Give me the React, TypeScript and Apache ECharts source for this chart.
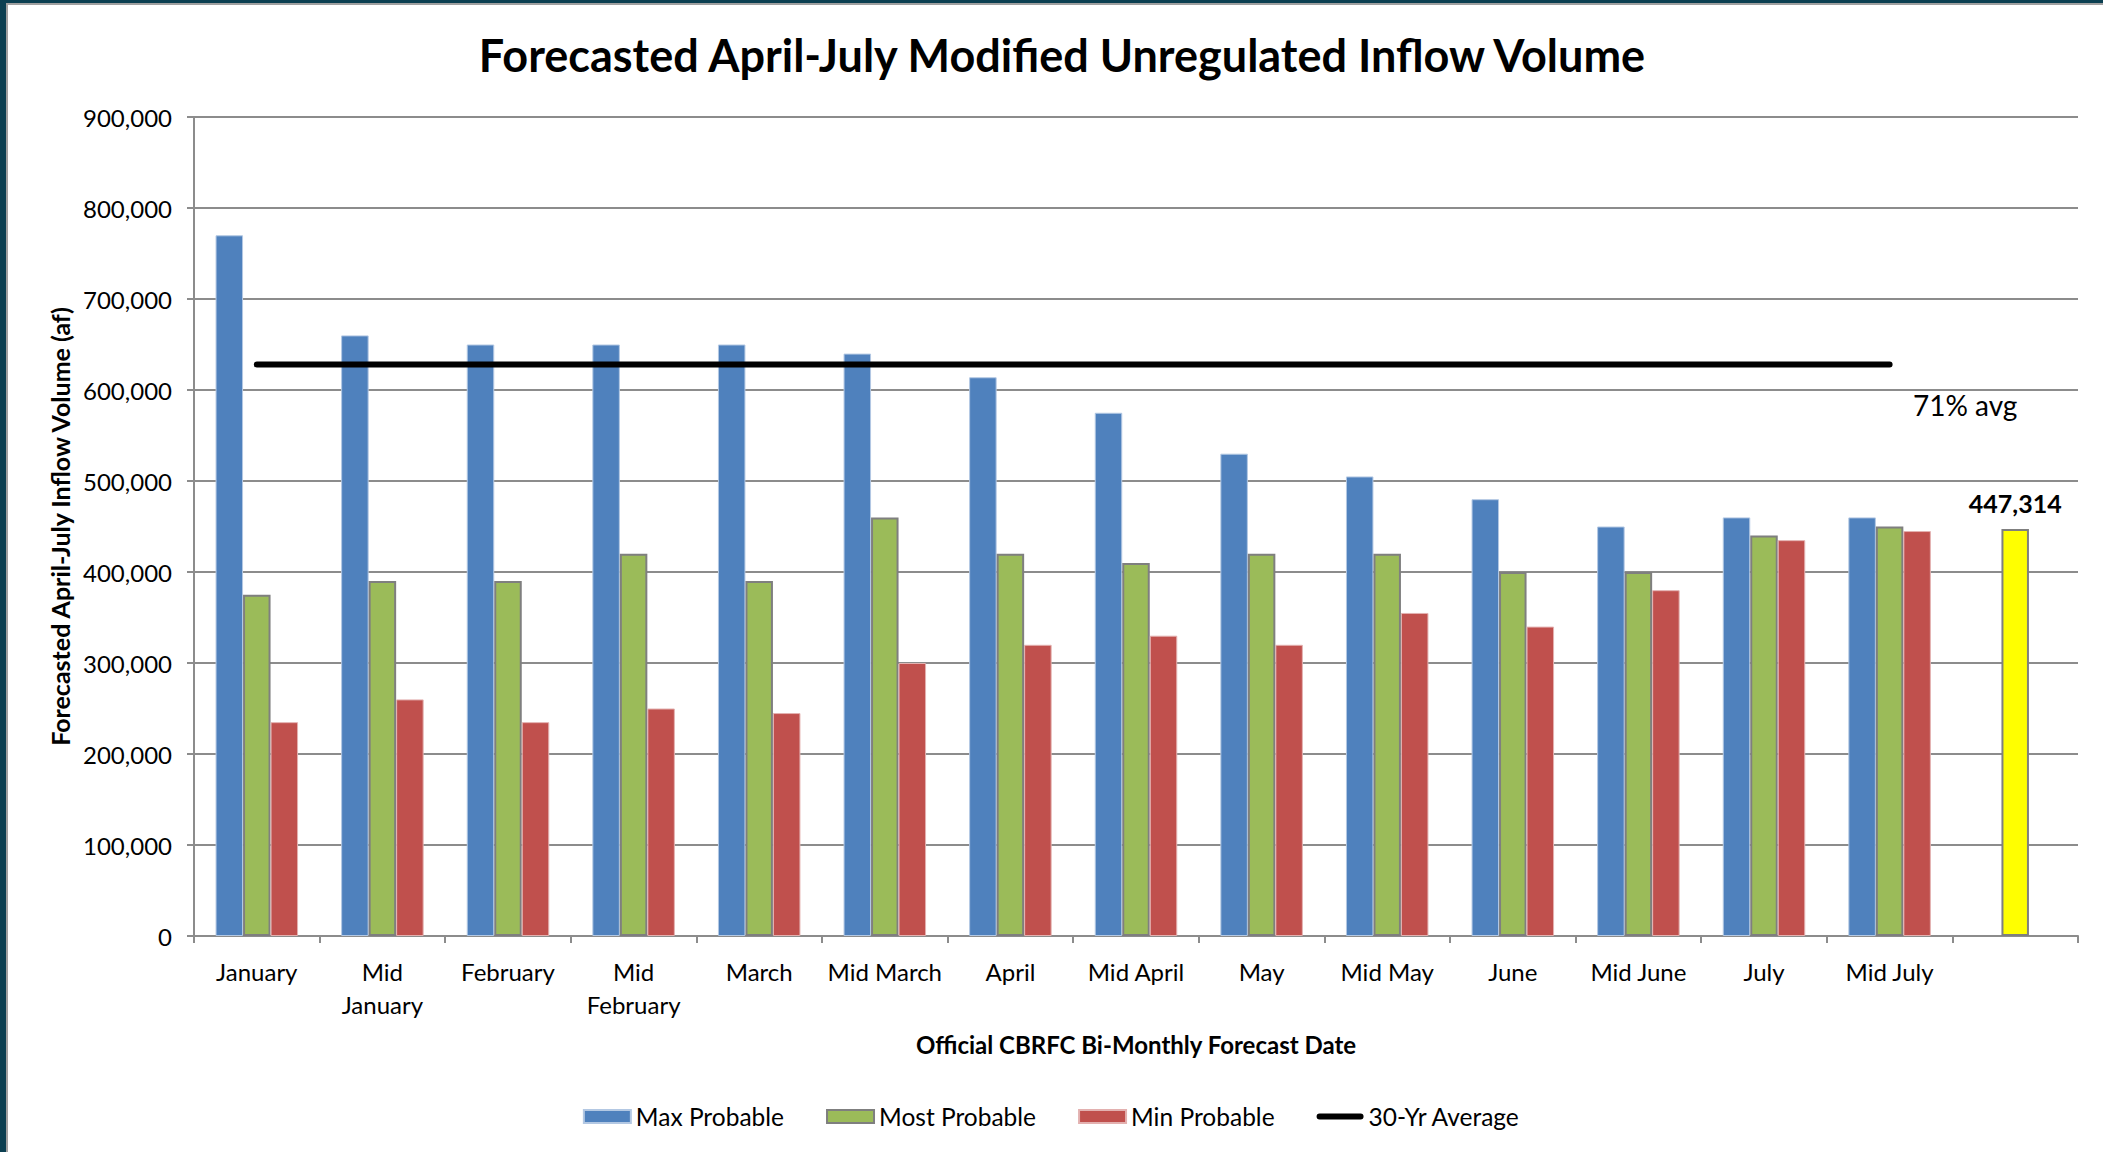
import React, { useEffect, useRef } from "react";
import * as echarts from "echarts";

const categories = [
  "January",
  "Mid\nJanuary",
  "February",
  "Mid\nFebruary",
  "March",
  "Mid March",
  "April",
  "Mid April",
  "May",
  "Mid May",
  "June",
  "Mid June",
  "July",
  "Mid July",
  "",
];
const maxProbable = [770000, 660000, 650000, 650000, 650000, 640000, 614000, 575000, 530000, 505000, 480000, 450000, 460000, 460000, null];
const mostProbable = [375000, 390000, 390000, 420000, 390000, 460000, 420000, 410000, 420000, 420000, 400000, 400000, 440000, 450000, null];
const minProbable = [235000, 260000, 235000, 250000, 245000, 300000, 320000, 330000, 320000, 355000, 340000, 380000, 435000, 445000, null];
const thirtyYrAverage = [628000, 628000, 628000, 628000, 628000, 628000, 628000, 628000, 628000, 628000, 628000, 628000, 628000, 628000, null];
const currentIndex = 14;
const currentValue = 447314;
const avgNote = "71% avg";

const FONT = "Lato";

export default function App() {
  const ref = useRef<HTMLDivElement>(null);
  useEffect(() => {
    if (!ref.current) return;
    const chart = echarts.init(ref.current, null, { renderer: "svg" });
    const greenData = mostProbable.map((v, i) =>
      i === currentIndex
        ? {
            value: currentValue,
            itemStyle: { color: "#ffff00", borderColor: "#7f7f7f", borderWidth: 2 },
            label: {
              show: true,
              position: "top",
              distance: 13,
              fontFamily: FONT,
              fontWeight: "bold",
              fontSize: 25,
              color: "#000",
              formatter: (p: any) => Number(p.value).toLocaleString("en-US"),
            },
          }
        : v
    );
    const lineIcon =
      "path://M0,0L0.01,0L0,0.01Z M47,13L46.99,13L47,12.99Z M3,3.5L44,3.5A3,3,0,0,1,44,9.5L3,9.5A3,3,0,0,1,3,3.5Z";
    const option: any = {
      animation: false,
      backgroundColor: "#ffffff",
      textStyle: { fontFamily: FONT },
      title: {
        text: "Forecasted April-July Modified Unregulated Inflow Volume",
        left: 1057,
        top: 27,
        textAlign: "center",
        textStyle: { fontFamily: FONT, fontWeight: "bold", fontSize: 45, color: "#000" },
      },
      legend: {
        bottom: 18,
        left: "center",
        itemWidth: 47,
        itemHeight: 13,
        itemGap: 42,
        textStyle: { fontFamily: FONT, fontSize: 24.5, color: "#000" },
        data: [
          { name: "Max Probable", icon: "rect" },
          { name: "Most Probable", icon: "rect" },
          { name: "Min Probable", icon: "rect" },
          { name: "30-Yr Average", icon: lineIcon, itemStyle: { color: "#000", borderWidth: 0 } },
        ],
      },
      grid: { left: 194, right: 25, top: 117, bottom: 216, containLabel: false },
      xAxis: {
        type: "category",
        data: categories,
        name: "Official CBRFC Bi-Monthly Forecast Date",
        nameLocation: "middle",
        nameGap: 96,
        nameTextStyle: { fontFamily: FONT, fontWeight: "bold", fontSize: 24, color: "#000" },
        axisLine: { lineStyle: { color: "#8c8c8c", width: 2 } },
        axisTick: { show: true, length: 7, lineStyle: { color: "#8c8c8c", width: 2 } },
        axisLabel: {
          interval: 0,
          margin: 19,
          fontFamily: FONT,
          fontSize: 24,
          lineHeight: 33,
          color: "#000",
        },
      },
      yAxis: {
        type: "value",
        min: 0,
        max: 900000,
        interval: 100000,
        name: "Forecasted April-July Inflow Volume (af)",
        nameLocation: "middle",
        nameGap: 122,
        nameTextStyle: { fontFamily: FONT, fontWeight: "bold", fontSize: 25, color: "#000" },
        axisLine: { show: true, lineStyle: { color: "#8c8c8c", width: 2 } },
        axisTick: { show: true, length: 7, lineStyle: { color: "#8c8c8c", width: 2 } },
        splitLine: { show: true, lineStyle: { color: "#8c8c8c", width: 2 } },
        axisLabel: {
          margin: 22,
          fontFamily: FONT,
          fontSize: 24,
          color: "#000",
          formatter: (v: number) => v.toLocaleString("en-US"),
        },
      },
      series: [
        {
          name: "Max Probable",
          type: "bar",
          data: maxProbable,
          barWidth: 27.5,
          barGap: "0%",
          itemStyle: { color: "#4f81bd", borderColor: "#b3c8e3", borderWidth: 1 },
        },
        {
          name: "Most Probable",
          type: "bar",
          data: greenData,
          barWidth: 27.5,
          barGap: "0%",
          itemStyle: { color: "#9bbb59", borderColor: "#7f7f7f", borderWidth: 2 },
        },
        {
          name: "Min Probable",
          type: "bar",
          data: minProbable,
          barWidth: 27.5,
          barGap: "0%",
          itemStyle: { color: "#c0504d", borderColor: "#e3b1b0", borderWidth: 1 },
        },
        {
          name: "30-Yr Average",
          type: "line",
          data: thirtyYrAverage,
          symbol: "none",
          showSymbol: false,
          z: 5,
          itemStyle: { color: "#000" },
          lineStyle: { color: "#000", width: 6, cap: "round" },
        },
      ],
      graphic: [
        {
          type: "text",
          left: 1913,
          top: 391,
          style: { text: avgNote, fontFamily: FONT, fontSize: 28, fill: "#000" },
        },
        { type: "rect", shape: { x: 0, y: 0, width: 6, height: 1152 }, style: { fill: "#0b3f51" }, z: 100 },
        { type: "rect", shape: { x: 6, y: 4, width: 2, height: 1148 }, style: { fill: "#a0a0a0" }, z: 100 },
        { type: "rect", shape: { x: 0, y: 0, width: 2103, height: 3 }, style: { fill: "#0b3f51" }, z: 100 },
        { type: "rect", shape: { x: 6, y: 3, width: 2097, height: 2 }, style: { fill: "#a0a0a0" }, z: 100 },
      ],
    };
    chart.setOption(option);
    return () => chart.dispose();
  }, []);
  return (
    <div
      ref={ref}
      style={{ position: "fixed", left: 0, top: 0, width: 2103, height: 1152 }}
    />
  );
}
